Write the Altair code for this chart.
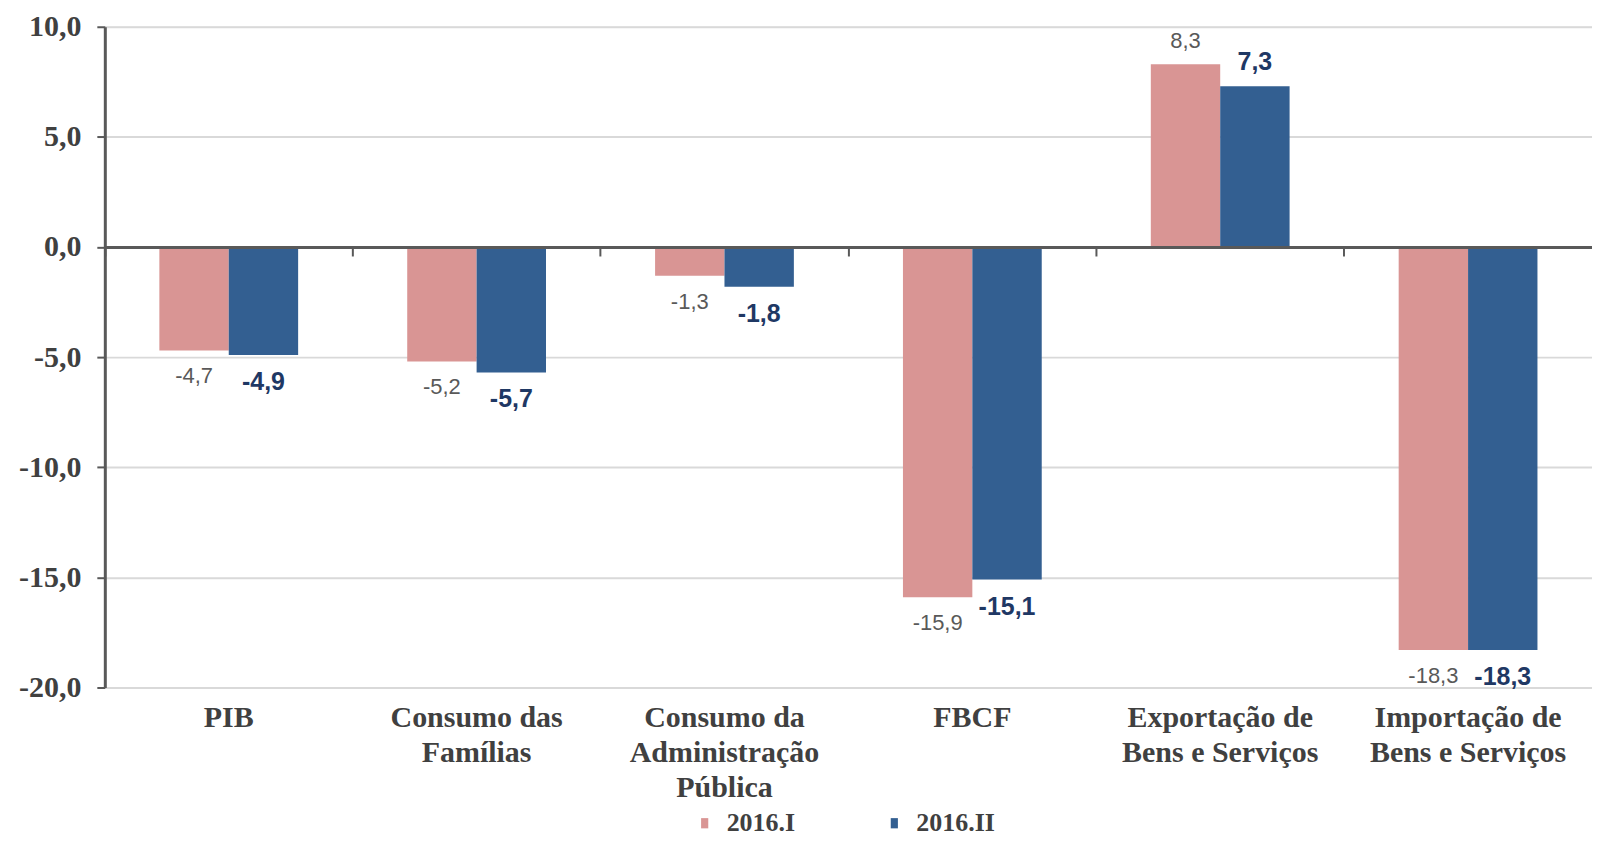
import altair as alt
import pandas as pd

# ---- data -------------------------------------------------------------
categories = [
    "PIB",
    "Consumo das|Famílias",
    "Consumo da|Administração|Pública",
    "FBCF",
    "Exportação de|Bens e Serviços",
    "Importação de|Bens e Serviços",
]
series = ["2016.I", "2016.II"]
values_2016_I = [-4.7, -5.2, -1.3, -15.9, 8.3, -18.3]
values_2016_II = [-4.9, -5.7, -1.8, -15.1, 7.3, -18.3]
y_ticks = [-20, -15, -10, -5, 0, 5, 10]

rows = []
for c, v in zip(categories, values_2016_I):
    rows.append({"categoria": c, "serie": series[0], "valor": v})
for c, v in zip(categories, values_2016_II):
    rows.append({"categoria": c, "serie": series[1], "valor": v})
df = pd.DataFrame(rows)

PINK = "#D99594"
BLUE = "#335F91"
SERIF = "Liberation Serif, Times New Roman, serif"
SANS = "Liberation Sans, Arial, sans-serif"
TXT = "#404040"

W, H = 1490, 662

FMT = "replace(replace(format({v}, '.1f'), '.', ','), '\u2212', '-')"

x_scale = alt.Scale(paddingInner=0, paddingOuter=0)
x_enc = alt.X(
    "categoria:N",
    sort=categories,
    scale=x_scale,
    axis=alt.Axis(
        orient="bottom",
        title=None,
        domain=False,
        ticks=False,
        labelAngle=0,
        labelExpr="split(datum.label, '|')",
        labelFont=SERIF,
        labelFontWeight="bold",
        labelFontSize=30,
        labelLineHeight=35,
        labelColor=TXT,
        labelPadding=15,
        labelBaseline="top",
        labelLimit=400,
    ),
)
xoff_enc = alt.XOffset(
    "serie:N", sort=series, scale=alt.Scale(paddingInner=0, paddingOuter=0.786)
)
y_enc = alt.Y(
    "valor:Q",
    scale=alt.Scale(domain=[-20, 10], nice=False, zero=False),
    axis=alt.Axis(
        title=None,
        values=y_ticks,
        labelExpr=FMT.format(v="datum.value"),
        labelFont=SERIF,
        labelFontWeight="bold",
        labelFontSize=30,
        labelColor=TXT,
        labelPadding=16,
        domain=True,
        domainColor="#595959",
        domainWidth=3,
        ticks=True,
        tickColor="#595959",
        tickWidth=2,
        tickSize=8,
        grid=True,
        gridColor="#D9D9D9",
        gridWidth=2,
    ),
)

base = alt.Chart(df).transform_calculate(rotulo=FMT.format(v="datum.valor"))

bars = base.mark_bar().encode(
    x=x_enc,
    xOffset=xoff_enc,
    y=y_enc,
    color=alt.Color(
        "serie:N",
        sort=series,
        scale=alt.Scale(domain=series, range=[PINK, BLUE]),
        legend=alt.Legend(
            title=None,
            orient="none",
            direction="horizontal",
            legendX=588,
            legendY=785,
            padding=0,
            symbolType="M-0.35,-0.5H0.35V0.5H-0.35Z",
            symbolSize=420,
            symbolStrokeWidth=0,
            labelFont=SERIF,
            labelFontWeight="bold",
            labelFontSize=26,
            labelColor=TXT,
            labelOffset=9,
            columnPadding=86,
        ),
    ),
)

def labels(serie, positive, color, weight, size, dy):
    cond = "datum.valor >= 0" if positive else "datum.valor < 0"
    return (
        base.transform_filter(alt.datum.serie == serie)
        .transform_filter(cond)
        .mark_text(
            font=SANS,
            fontWeight=weight,
            fontSize=size,
            color=color,
            baseline="middle",
            align="center",
            dy=dy,
        )
        .encode(
            x=alt.X("categoria:N", sort=categories, axis=None),
            xOffset=xoff_enc,
            y=alt.Y("valor:Q"),
            text="rotulo:N",
        )
    )

lbl_layers = [
    labels("2016.I", True, "#595959", "normal", 22, -23),
    labels("2016.I", False, "#595959", "normal", 22, 26),
    labels("2016.II", True, "#1F3864", "bold", 25, -24),
    labels("2016.II", False, "#1F3864", "bold", 25, 27),
]

# zero line with category boundary ticks (axis drawn at y = 0)
zero_offset = -(H * 20.0 / 30.0)
zero_axis = (
    alt.Chart(df)
    .mark_bar(opacity=0)
    .encode(
        x=alt.X(
            "categoria:N",
            sort=categories,
            axis=alt.Axis(
                orient="bottom",
                offset=zero_offset,
                title=None,
                labels=False,
                domain=True,
                domainColor="#595959",
                domainWidth=3,
                ticks=True,
                tickColor="#595959",
                tickWidth=2,
                tickSize=9,
                bandPosition=0,
                grid=False,
                zindex=2,
            ),
        ),
        y=alt.Y("valor:Q"),
    )
)

chart = (
    alt.layer(bars, *lbl_layers, zero_axis)
    .resolve_axis(x="independent")
    .properties(
        width=W,
        height=H,
        autosize=alt.AutoSizeParams(type="none"),
        padding={"left": 97, "top": 18, "right": 0, "bottom": 150},
    )
    .configure_view(stroke=None)
    .configure(background="white")
)

chart.save("out.html", embed_options={"renderer": "svg", "actions": False})
